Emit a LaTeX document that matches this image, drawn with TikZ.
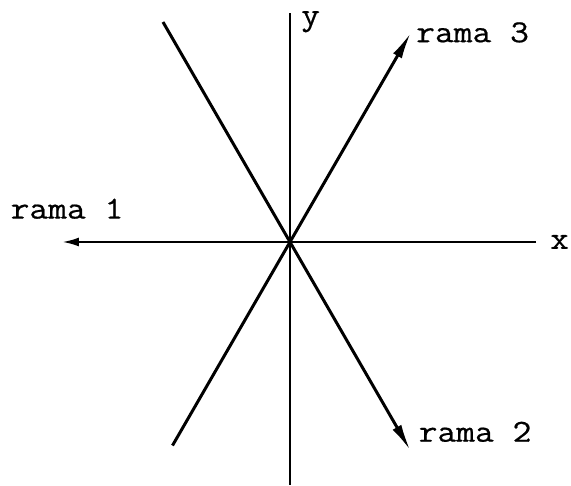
\documentclass[tikz,border=0pt]{standalone}
\usepackage{fontspec}
\setmonofont[FakeStretch=1.14, FakeBold=0.6]{Latin Modern Mono}
\usetikzlibrary{arrows.meta,positioning}

\begin{document}
\begin{tikzpicture}[x=1pt, y=1pt]

  \tikzstyle{axis}   = [line width=2.4pt, black]
  \tikzstyle{branch} = [line width=3pt, black]
  \tikzstyle{tip}    = [-{Latex[length=27pt, width=10pt]}]
  \tikzstyle{lbl}    = [font=\ttfamily\fontsize{32}{32}\selectfont, inner sep=0pt]

  \useasboundingbox (-290,-244) rectangle (281,242);

  % ---- END POINTS ----
  \coordinate (O)    at (0,0);
  \coordinate (ytop) at (0,229);
  \coordinate (ybot) at (0,-243);
  \coordinate (xl)   at (-228,0);
  \coordinate (xr)   at (246,0);
  \coordinate (r3)   at (60:242);
  \coordinate (r3b)  at (240:235);
  \coordinate (r2)   at (-60:241);
  \coordinate (r2b)  at (120:254);

  % ---- AXES ----
  \draw[axis] (ybot) -- (ytop);
  \draw[axis, -{Latex[length=17pt, width=9pt]}] (xr) -- (xl);

  % ---- BRANCHES ----
  \draw[branch, tip] (r3b) -- (r3);   % rama 3
  \draw[branch, tip] (r2b) -- (r2);   % rama 2

  % ---- LABELS ----
  \node[lbl, right=14pt of xr] (lx) {x};
  \node[lbl, anchor=base west] (ly) at ([shift={(11,-12)}]ytop) {y};
  \node[lbl, above=23pt of xl, xshift=5pt] (l1) {rama 1};
  \node[lbl, anchor=base west] (l2) at ([shift={(8,9)}]r2) {rama 2};
  \node[lbl, right=5pt of r3] (l3) {rama 3};

\end{tikzpicture}
\end{document}
